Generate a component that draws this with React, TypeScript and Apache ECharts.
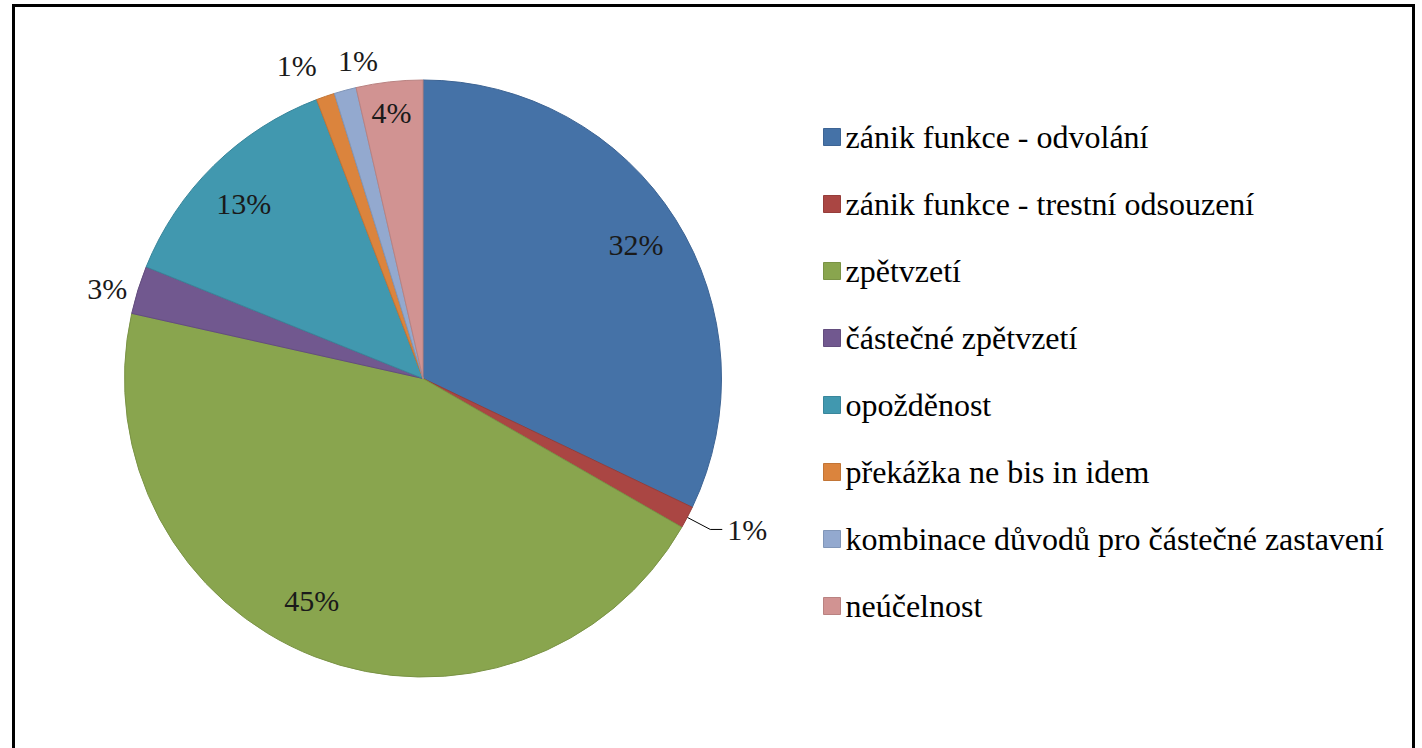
import React, { useEffect, useRef } from 'react';
import * as echarts from 'echarts';

const categories = [
  'zánik funkce - odvolání',
  'zánik funkce - trestní odsouzení',
  'zpětvzetí',
  'částečné zpětvzetí',
  'opožděnost',
  'překážka ne bis in idem',
  'kombinace důvodů pro částečné zastavení',
  'neúčelnost',
];
const shares = [32.1, 1.2, 45.2, 2.6, 13.1, 1.0, 1.2, 3.6];

const colors = ['#4572A7', '#AA4643', '#89A54E', '#71588F', '#4198AF', '#DB843D', '#93A9CF', '#D19392'];
const borderColors = ['#3D6494', '#963D3A', '#7A9345', '#634D7E', '#39869B', '#C27536', '#8196B8', '#B98281'];

// label styling per category
const labelPlacement = ['inside', 'outside', 'inside', 'outside', 'inside', 'outside', 'outside', 'inside'];
const labelNudgeX = [0, 0, -20, 0, -3, 0, 0, -3];
const labelNudgeY = [0, 0, -13, 0, 5, 0, 0, -16];
const leaderLen = [0, 26, 0, 6, 0, 33, 31, 0];
const leaderLen2 = [0, 12, 0, 0, 0, -7, -46, 0];
const showLeader = [false, true, false, false, false, false, false, false];

const FONT = 'Liberation Serif';

export default function App() {
  const ref = useRef<HTMLDivElement>(null);

  useEffect(() => {
    if (!ref.current) return;
    const chart = echarts.init(ref.current, null, { renderer: 'svg' });
    const center = [423, 378.5];
    const R = 298.5;

    chart.setOption({
      animation: false,
      backgroundColor: '#ffffff',
      textStyle: { fontFamily: FONT },
      graphic: [
        {
          type: 'rect',
          silent: true,
          shape: { x: 13.5, y: 5.5, width: 1400, height: 800 },
          style: { fill: 'none', stroke: '#000000', lineWidth: 3 },
        },
      ],
      legend: {
        orient: 'vertical',
        left: 823,
        top: 121,
        padding: 0,
        itemWidth: 17,
        itemHeight: 17,
        itemGap: 35,
        icon: 'rect',
        selectedMode: false,
        textStyle: { fontFamily: FONT, fontSize: 32, lineHeight: 32, color: '#000000' },
        data: categories.map((name, i) => ({
          name,
          itemStyle: { color: colors[i], borderColor: borderColors[i], borderWidth: 1 },
        })),
      },
      series: [
        {
          type: 'pie',
          center,
          radius: R,
          startAngle: 90,
          clockwise: true,
          silent: true,
          label: { show: false },
          labelLine: { show: false },
          data: categories.map((name, i) => ({
            name,
            value: shares[i],
            itemStyle: { color: colors[i], borderColor: borderColors[i], borderWidth: 1 },
          })),
        },
        {
          type: 'pie',
          center,
          radius: [199, R],
          startAngle: 90,
          clockwise: true,
          silent: true,
          avoidLabelOverlap: false,
          itemStyle: { color: 'rgba(0,0,0,0)', borderWidth: 0 },
          label: {
            show: true,
            fontFamily: FONT,
            fontSize: 30,
            color: '#1a1a1a',
            distanceToLabelLine: 5,
            formatter: (p: any) => Math.round(p.percent) + '%',
          },
          labelLayout: (params: any) => ({
            dx: labelNudgeX[params.dataIndex],
            dy: labelNudgeY[params.dataIndex],
          }),
          data: categories.map((name, i) => ({
            name,
            value: shares[i],
            label: { position: labelPlacement[i] },
            labelLine: {
              show: showLeader[i],
              length: leaderLen[i],
              length2: leaderLen2[i],
              smooth: false,
              lineStyle: { color: '#000000', width: 1 },
            },
          })),
        },
      ],
    });

    return () => chart.dispose();
  }, []);

  return (
    <div
      ref={ref}
      style={{ position: 'fixed', left: 0, top: 0, width: 1422, height: 748, background: '#fff' }}
    />
  );
}
